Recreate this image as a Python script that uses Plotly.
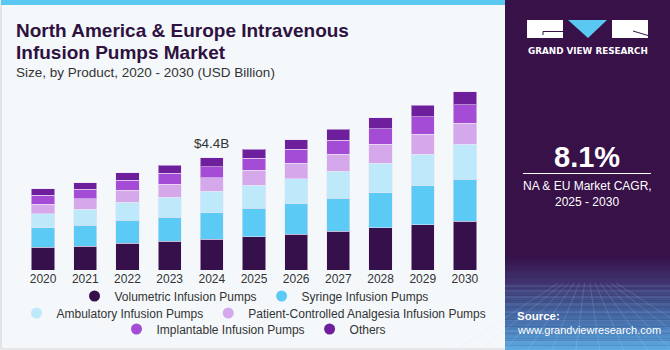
import plotly.graph_objects as go

years = ["2020", "2021", "2022", "2023", "2024", "2025", "2026", "2027", "2028", "2029", "2030"]
volumetric = [0.89, 0.94, 1.05, 1.12, 1.21, 1.30, 1.41, 1.53, 1.65, 1.77, 1.91]
syringe = [0.76, 0.81, 0.90, 0.95, 1.03, 1.13, 1.19, 1.28, 1.39, 1.53, 1.66]
ambulatory = [0.55, 0.63, 0.71, 0.79, 0.85, 0.89, 0.98, 1.06, 1.16, 1.25, 1.36]
pca = [0.39, 0.42, 0.47, 0.50, 0.54, 0.59, 0.62, 0.67, 0.73, 0.79, 0.84]
implantable = [0.34, 0.37, 0.39, 0.44, 0.43, 0.48, 0.54, 0.56, 0.62, 0.67, 0.72]
others = [0.26, 0.26, 0.30, 0.31, 0.34, 0.35, 0.37, 0.42, 0.42, 0.46, 0.50]

series_names = ["Volumetric Infusion Pumps", "Syringe Infusion Pumps", "Ambulatory Infusion Pumps",
                "Patient-Controlled Analgesia Infusion Pumps", "Implantable Infusion Pumps", "Others"]
series_values = [volumetric, syringe, ambulatory, pca, implantable, others]
colors = ["#36104A", "#5BCBF5", "#BDE9FA", "#D5A8EC", "#A54CD6", "#6E1F9C"]
legend_rows = ["legend", "legend", "legend2", "legend2", "legend3", "legend3"]

highlight_year = "2024"
highlight_label = "$4.4B"
cagr = "8.1%"

W, H = 670, 350
L, R, T, B = 22, 486, 79, 270
YMAX = 7.5


def px(x):
    return x / W


def py(y):
    return (H - y) / H


fig = go.Figure()
for name, vals, col, lg in zip(series_names, series_values, colors, legend_rows):
    fig.add_trace(go.Bar(x=years, y=vals, name=name, marker_color=col,
                         marker_line=dict(color="rgba(235,225,245,0.55)", width=1),
                         showlegend=False))
    fig.add_trace(go.Scatter(x=[years[0]], y=[None], mode="markers", name=name,
                             marker=dict(color=col, size=11, symbol="circle"),
                             legend=lg, showlegend=True))

totals = [sum(v) for v in zip(*series_values)]
hi = years.index(highlight_year)

shapes = []
# card background
shapes.append(dict(type="rect", xref="paper", yref="paper", x0=px(1), x1=px(669), y0=py(349), y1=py(1),
                   fillcolor="#F4F8FB", line=dict(color="#D2D4D6", width=1.2), layer="below"))
# top blue stripe
shapes.append(dict(type="rect", xref="paper", yref="paper", x0=px(1), x1=px(505), y0=py(5), y1=py(0),
                   fillcolor="#5BC8F2", line=dict(width=0), layer="below"))
# right panel
shapes.append(dict(type="rect", xref="paper", yref="paper", x0=px(505), x1=px(670), y0=py(350), y1=py(0),
                   fillcolor="#371148", line=dict(width=0), layer="below"))
# gradient at bottom of panel
stops = [(255, (55, 17, 72)), (282, (64, 52, 112)), (300, (64, 82, 140)), (325, (72, 120, 180)), (350, (92, 172, 226))]
n = 40
for i in range(n):
    y0 = 255 + i * (350 - 255) / n
    y1 = 255 + (i + 1) * (350 - 255) / n
    ym = (y0 + y1) / 2
    for (a, ca), (b, cb) in zip(stops[:-1], stops[1:]):
        if a <= ym <= b:
            t = (ym - a) / (b - a)
            c = tuple(int(ca[k] + (cb[k] - ca[k]) * t) for k in range(3))
            break
    shapes.append(dict(type="rect", xref="paper", yref="paper", x0=px(505), x1=px(670), y0=py(y1 + 0.3), y1=py(y0),
                       fillcolor="rgb(%d,%d,%d)" % c, line=dict(width=0), layer="below"))
# faint grid texture
for k in range(12):
    xx = 505 + k * 15
    shapes.append(dict(type="line", xref="paper", yref="paper", x0=px(587 + (xx - 587) * 0.35), y0=py(283),
                       x1=px(587 + (xx - 587) * 1.6), y1=py(350),
                       line=dict(color="rgba(200,220,255,0.18)", width=1), layer="below"))
for yy in [286, 291, 297, 304, 312, 321, 331, 342]:
    shapes.append(dict(type="line", xref="paper", yref="paper", x0=px(505), y0=py(yy), x1=px(670), y1=py(yy),
                       line=dict(color="rgba(200,220,255,0.18)", width=1), layer="below"))
# logo
shapes.append(dict(type="rect", xref="paper", yref="paper", x0=px(527), x1=px(563), y0=py(38), y1=py(20),
                   fillcolor="white", line=dict(width=0)))
shapes.append(dict(type="line", xref="paper", yref="paper", x0=px(543), x1=px(563), y0=py(31.5), y1=py(31.5),
                   line=dict(color="#371148", width=1)))
shapes.append(dict(type="line", xref="paper", yref="paper", x0=px(543), x1=px(543), y0=py(31.5), y1=py(35),
                   line=dict(color="#371148", width=1)))
shapes.append(dict(type="path", xref="paper", yref="paper",
                   path="M %f,%f L %f,%f L %f,%f Z" % (px(568), py(20), px(607), py(20), px(588), py(38)),
                   fillcolor="#5BC8F2", line=dict(width=0)))
shapes.append(dict(type="rect", xref="paper", yref="paper", x0=px(612), x1=px(648), y0=py(38), y1=py(20),
                   fillcolor="white", line=dict(width=0)))
shapes.append(dict(type="line", xref="paper", yref="paper", x0=px(633), x1=px(648), y0=py(31), y1=py(35.5),
                   line=dict(color="#371148", width=1)))
# separator under CAGR
shapes.append(dict(type="line", xref="paper", yref="paper", x0=px(523), x1=px(651), y0=py(173.5), y1=py(173.5),
                   line=dict(color="white", width=1)))

title_font = "Liberation Sans"
annotations = [
    dict(x=px(14), y=py(30), text="<b>North America & Europe Intravenous</b>", xanchor="left", yanchor="middle",
         font=dict(family=title_font, size=19, color="#2E1140")),
    dict(x=px(14), y=py(52), text="<b>Infusion Pumps Market</b>", xanchor="left", yanchor="middle",
         font=dict(family=title_font, size=19, color="#2E1140")),
    dict(x=px(14), y=py(73), text="Size, by Product, 2020 - 2030 (USD Billion)", xanchor="left", yanchor="middle",
         font=dict(family=title_font, size=13.5, color="#333333")),
    dict(x=hi, y=totals[hi], xref="x", yref="y", text=highlight_label, xanchor="center", yanchor="bottom", yshift=5,
         font=dict(family=title_font, size=13.5, color="#333333")),
    dict(x=px(588), y=py(51), text="<b>GRAND VIEW RESEARCH</b>", xanchor="center", yanchor="middle",
         font=dict(family="DejaVu Sans", size=8.8, color="white")),
    dict(x=px(587), y=py(157), text="<b>" + cagr + "</b>", xanchor="center", yanchor="middle",
         font=dict(family=title_font, size=29, color="white")),
    dict(x=px(587), y=py(186), text="NA & EU Market CAGR,", xanchor="center", yanchor="middle",
         font=dict(family=title_font, size=12, color="white")),
    dict(x=px(587), y=py(202), text="2025 - 2030", xanchor="center", yanchor="middle",
         font=dict(family=title_font, size=12, color="white")),
    dict(x=px(515), y=py(316), text="<b>Source:</b>", xanchor="left", yanchor="middle",
         font=dict(family=title_font, size=11.5, color="white")),
    dict(x=px(515), y=py(330), text="www.grandviewresearch.com", xanchor="left", yanchor="middle",
         font=dict(family=title_font, size=11, color="white")),
]
for a in annotations:
    a.setdefault("xref", "paper")
    a.setdefault("yref", "paper")
    a["showarrow"] = False

leg_common = dict(orientation="h", xanchor="center", yanchor="middle", x=px(254),
                  font=dict(family=title_font, size=12, color="#333333"), traceorder="normal",
                  bgcolor="rgba(0,0,0,0)", itemwidth=30, tracegroupgap=0)

fig.update_layout(
    width=W, height=H,
    margin=dict(l=0, r=0, t=0, b=0, pad=0),
    barmode="stack", bargap=0.45,
    paper_bgcolor="white", plot_bgcolor="rgba(0,0,0,0)",
    xaxis=dict(type="category", categoryorder="array", categoryarray=years, range=[-0.5, len(years) - 0.5],
               domain=[L / W, R / W], showgrid=False, zeroline=False, showline=False, ticks="",
               tickfont=dict(family=title_font, size=12, color="#333333"), fixedrange=True),
    yaxis=dict(range=[0, YMAX], domain=[(H - B) / H, (H - T) / H], visible=False, fixedrange=True),
    shapes=shapes, annotations=annotations,
    legend=dict(y=py(296), **leg_common),
    legend2=dict(y=py(313), **leg_common),
    legend3=dict(y=py(329), **leg_common),
    showlegend=True,
)

fig.write_html("out.html")
